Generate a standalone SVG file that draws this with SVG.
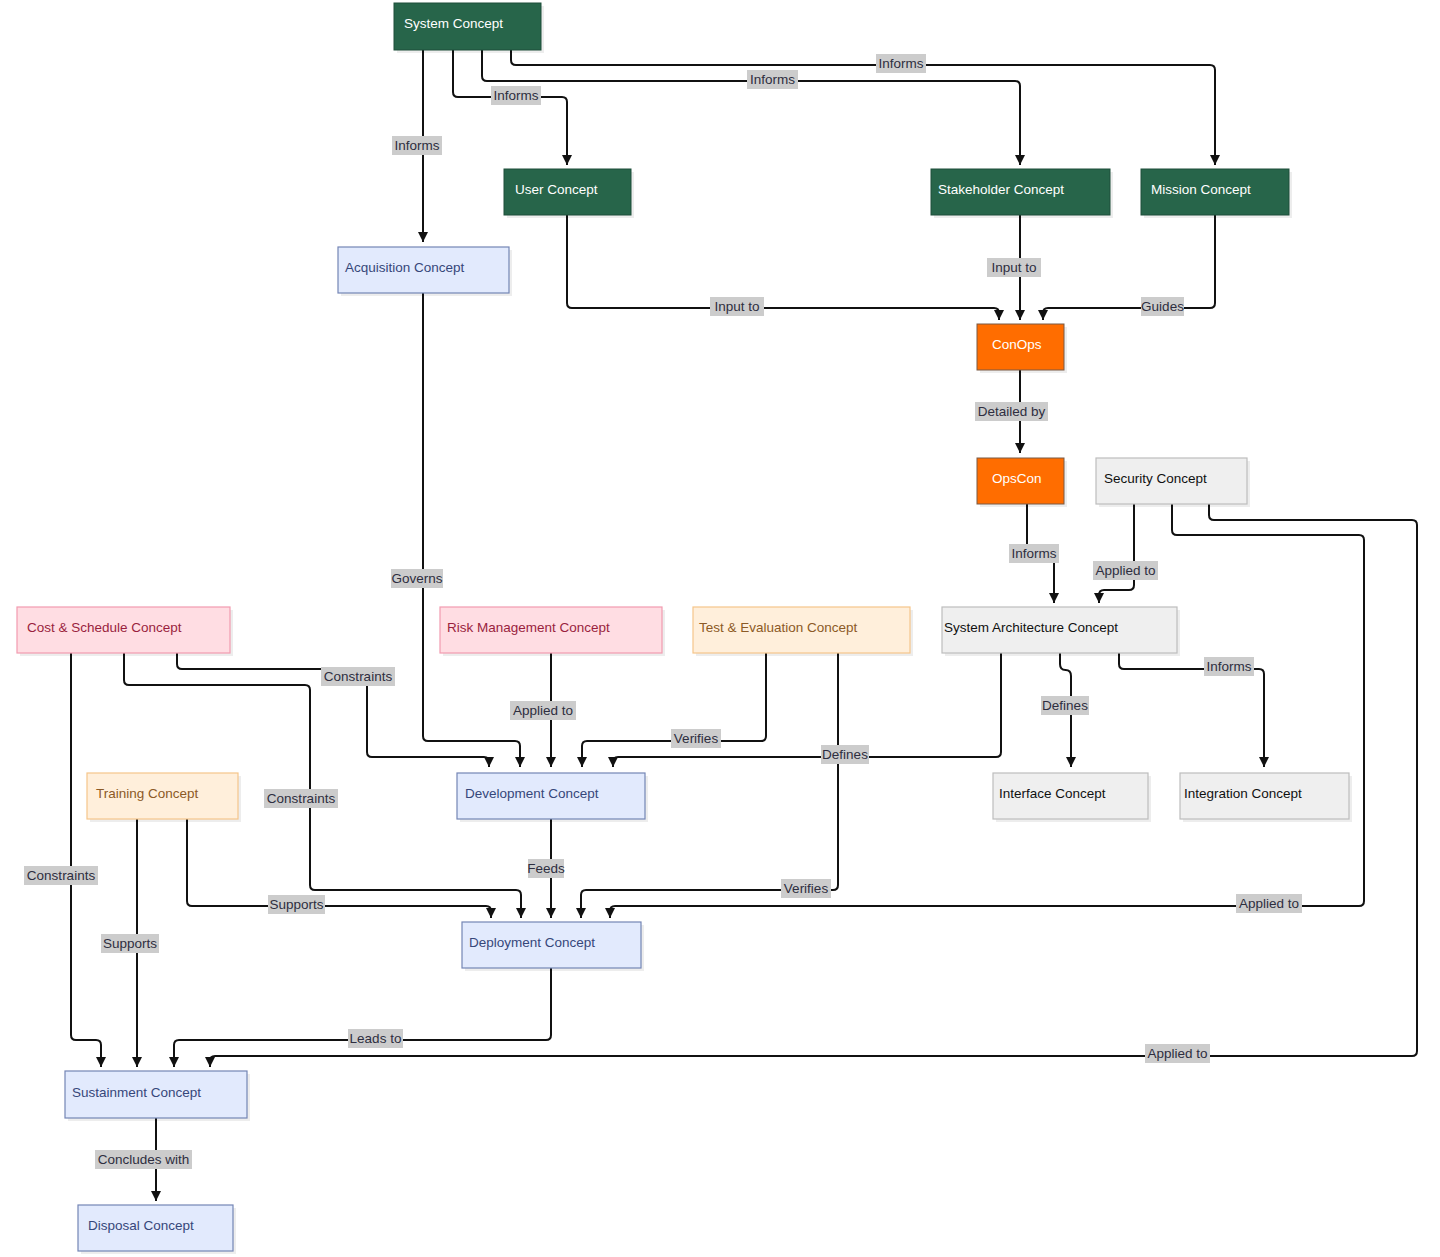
<svg xmlns="http://www.w3.org/2000/svg" width="1440" height="1257" viewBox="0 0 1440 1257">
<defs>
<marker id="ah" viewBox="0 0 10 10" refX="10" refY="5" markerWidth="10" markerHeight="10" markerUnits="userSpaceOnUse" orient="auto">
<path d="M0,0 L10,5 L0,10 z" fill="#111"/>
</marker>
<style>
text{font-family:"Liberation Sans",Arial,sans-serif;font-size:13.5px}
.sh{fill:#000;opacity:.07}
.green rect.b{fill:#27654a;stroke:#1f4f3a;stroke-width:1}
.green text{fill:#fff}
.orange rect.b{fill:#ff6d00;stroke:#7a5a44;stroke-width:1}
.orange text{fill:#fff}
.blue rect.b{fill:#e2eafd;stroke:#7485b5;stroke-width:1.2}
.blue text{fill:#36477a}
.pink rect.b{fill:#ffdde3;stroke:#f29bb0;stroke-width:1.2}
.pink text{fill:#9a1f3e}
.lor rect.b{fill:#ffefdb;stroke:#f6c58a;stroke-width:1.2}
.lor text{fill:#8c5a26}
.gray rect.b{fill:#efefef;stroke:#bdbdbd;stroke-width:1.2}
.gray text{fill:#111}
#edges path{fill:none;stroke:#111;stroke-width:2;marker-end:url(#ah)}
#labels rect{fill:#cccccc}
#labels text{fill:#2e2e40;text-anchor:middle}
</style>
</defs>
<rect width="1440" height="1257" fill="#fff"/>

<g id="edges">
<path d="M423,50 L423,242"/>
<path d="M453,50 L453,92 Q453,97 458,97 L562,97 Q567,97 567,102 L567,165"/>
<path d="M482,50 L482,76 Q482,81 487,81 L1015,81 Q1020,81 1020,86 L1020,165"/>
<path d="M511,50 L511,60 Q511,65 516,65 L1210,65 Q1215,65 1215,70 L1215,165"/>
<path d="M567,215 L567,303 Q567,308 572,308 L994,308 Q999,308 999,313 L999,320"/>
<path d="M1020,215 L1020,320"/>
<path d="M1215,215 L1215,303 Q1215,308 1210,308 L1048,308 Q1043,308 1043,313 L1043,320"/>
<path d="M1020,370 L1020,453"/>
<path d="M1027,504 L1027,553 L1054,553 L1054,603"/>
<path d="M1134,504 L1134,585 Q1134,590 1129,590 L1104,590 Q1099,590 1099,595 L1099,603"/>
<path d="M423,293 L423,736 Q423,741 428,741 L515,741 Q520,741 520,746 L520,767"/>
<path d="M177,653 L177,664 Q177,669 182,669 L362,669 Q367,669 367,674 L367,752 Q367,757 372,757 L484,757 Q489,757 489,762 L489,767"/>
<path d="M551,653 L551,767"/>
<path d="M766,653 L766,736 Q766,741 761,741 L587,741 Q582,741 582,746 L582,767"/>
<path d="M1001,653 L1001,752 Q1001,757 996,757 L618,757 Q613,757 613,762 L613,767"/>
<path d="M1060,653 L1060,664 Q1060,670 1065.5,670 Q1071,670 1071,676 L1071,767"/>
<path d="M1119,653 L1119,664 Q1119,669 1124,669 L1259,669 Q1264,669 1264,674 L1264,767"/>
<path d="M124,653 L124,680 Q124,685 129,685 L305,685 Q310,685 310,690 L310,885 Q310,890 315,890 L516,890 Q521,890 521,895 L521,918"/>
<path d="M71,653 L71,1035 Q71,1040 76,1040 L96,1040 Q101,1040 101,1045 L101,1067"/>
<path d="M551,819 L551,918"/>
<path d="M838,653 L838,885 Q838,890 833,890 L586,890 Q581,890 581,895 L581,918"/>
<path d="M187,819 L187,901 Q187,906 192,906 L486,906 Q491,906 491,911 L491,918"/>
<path d="M137,819 L137,1067"/>
<path d="M1172,504 L1172,530 Q1172,535 1177,535 L1359,535 Q1364,535 1364,540 L1364,901 Q1364,906 1359,906 L615,906 Q610,906 610,911 L610,918"/>
<path d="M551,968 L551,1035 Q551,1040 546,1040 L179,1040 Q174,1040 174,1045 L174,1067"/>
<path d="M1209,504 L1209,515 Q1209,520 1214,520 L1412,520 Q1417,520 1417,525 L1417,1051 Q1417,1056 1412,1056 L215,1056 Q210,1056 210,1061 L210,1067"/>
<path d="M156,1118 L156,1201"/>
</g>

<g id="labels">
<g><rect x="392" y="136" width="50" height="19"/><text x="417" y="150">Informs</text></g>
<g><rect x="491" y="86" width="50" height="19"/><text x="516" y="100">Informs</text></g>
<g><rect x="747" y="70" width="51" height="19"/><text x="772.5" y="84">Informs</text></g>
<g><rect x="876" y="54" width="50" height="19"/><text x="901" y="68">Informs</text></g>
<g><rect x="710" y="297" width="54" height="19"/><text x="737" y="311">Input to</text></g>
<g><rect x="987" y="258" width="54" height="19"/><text x="1014" y="272">Input to</text></g>
<g><rect x="1141" y="297" width="43" height="19"/><text x="1162.5" y="311">Guides</text></g>
<g><rect x="975" y="402" width="73" height="19"/><text x="1011.5" y="416">Detailed by</text></g>
<g><rect x="1009" y="544" width="50" height="19"/><text x="1034" y="558">Informs</text></g>
<g><rect x="1093" y="561" width="65" height="19"/><text x="1125.5" y="575">Applied to</text></g>
<g><rect x="391" y="569" width="52" height="19"/><text x="417" y="583">Governs</text></g>
<g><rect x="321" y="667" width="74" height="19"/><text x="358" y="681">Constraints</text></g>
<g><rect x="510" y="701" width="66" height="19"/><text x="543" y="715">Applied to</text></g>
<g><rect x="671" y="729" width="50" height="19"/><text x="696" y="743">Verifies</text></g>
<g><rect x="821" y="745" width="48" height="19"/><text x="845" y="759">Defines</text></g>
<g><rect x="1041" y="696" width="48" height="19"/><text x="1065" y="710">Defines</text></g>
<g><rect x="1204" y="657" width="50" height="19"/><text x="1229" y="671">Informs</text></g>
<g><rect x="264" y="789" width="74" height="19"/><text x="301" y="803">Constraints</text></g>
<g><rect x="24" y="866" width="74" height="19"/><text x="61" y="880">Constraints</text></g>
<g><rect x="528" y="859" width="36" height="19"/><text x="546" y="873">Feeds</text></g>
<g><rect x="781" y="879" width="50" height="19"/><text x="806" y="893">Verifies</text></g>
<g><rect x="268" y="895" width="57" height="19"/><text x="296.5" y="909">Supports</text></g>
<g><rect x="101" y="934" width="58" height="19"/><text x="130" y="948">Supports</text></g>
<g><rect x="1236" y="894" width="66" height="19"/><text x="1269" y="908">Applied to</text></g>
<g><rect x="348" y="1029" width="55" height="19"/><text x="375.5" y="1043">Leads to</text></g>
<g><rect x="1145" y="1044" width="65" height="19"/><text x="1177.5" y="1058">Applied to</text></g>
<g><rect x="95" y="1150" width="97" height="19"/><text x="143.5" y="1164">Concludes with</text></g>
</g>

<g id="nodes">
<g id="system" class="green"><rect class="sh" x="397" y="6" width="147" height="47"/><rect class="b" x="394" y="3" width="147" height="47"/><text x="404" y="28">System Concept</text></g>
<g id="user" class="green"><rect class="sh" x="507" y="172" width="127" height="46"/><rect class="b" x="504" y="169" width="127" height="46"/><text x="515" y="194">User Concept</text></g>
<g id="stakeholder" class="green"><rect class="sh" x="934" y="172" width="179" height="46"/><rect class="b" x="931" y="169" width="179" height="46"/><text x="938" y="194">Stakeholder Concept</text></g>
<g id="mission" class="green"><rect class="sh" x="1144" y="172" width="148" height="46"/><rect class="b" x="1141" y="169" width="148" height="46"/><text x="1151" y="194">Mission Concept</text></g>
<g id="acquisition" class="blue"><rect class="sh" x="341" y="250" width="171" height="46"/><rect class="b" x="338" y="247" width="171" height="46"/><text x="345" y="272">Acquisition Concept</text></g>
<g id="conops" class="orange"><rect class="sh" x="980" y="327" width="87" height="46"/><rect class="b" x="977" y="324" width="87" height="46"/><text x="992" y="349">ConOps</text></g>
<g id="opscon" class="orange"><rect class="sh" x="980" y="461" width="87" height="46"/><rect class="b" x="977" y="458" width="87" height="46"/><text x="992" y="483">OpsCon</text></g>
<g id="security" class="gray"><rect class="sh" x="1099" y="461" width="151" height="46"/><rect class="b" x="1096" y="458" width="151" height="46"/><text x="1104" y="483">Security Concept</text></g>
<g id="cost" class="pink"><rect class="sh" x="20" y="610" width="213" height="46"/><rect class="b" x="17" y="607" width="213" height="46"/><text x="27" y="632">Cost &amp; Schedule Concept</text></g>
<g id="risk" class="pink"><rect class="sh" x="443" y="610" width="222" height="46"/><rect class="b" x="440" y="607" width="222" height="46"/><text x="447" y="632">Risk Management Concept</text></g>
<g id="testeval" class="lor"><rect class="sh" x="696" y="610" width="217" height="46"/><rect class="b" x="693" y="607" width="217" height="46"/><text x="699" y="632">Test &amp; Evaluation Concept</text></g>
<g id="sysarch" class="gray"><rect class="sh" x="945" y="610" width="235" height="46"/><rect class="b" x="942" y="607" width="235" height="46"/><text x="944" y="632">System Architecture Concept</text></g>
<g id="training" class="lor"><rect class="sh" x="90" y="776" width="151" height="46"/><rect class="b" x="87" y="773" width="151" height="46"/><text x="96" y="798">Training Concept</text></g>
<g id="development" class="blue"><rect class="sh" x="460" y="776" width="188" height="46"/><rect class="b" x="457" y="773" width="188" height="46"/><text x="465" y="798">Development Concept</text></g>
<g id="interface" class="gray"><rect class="sh" x="996" y="776" width="155" height="46"/><rect class="b" x="993" y="773" width="155" height="46"/><text x="999" y="798">Interface Concept</text></g>
<g id="integration" class="gray"><rect class="sh" x="1183" y="776" width="169" height="46"/><rect class="b" x="1180" y="773" width="169" height="46"/><text x="1184" y="798">Integration Concept</text></g>
<g id="deployment" class="blue"><rect class="sh" x="465" y="925" width="179" height="46"/><rect class="b" x="462" y="922" width="179" height="46"/><text x="469" y="947">Deployment Concept</text></g>
<g id="sustainment" class="blue"><rect class="sh" x="68" y="1074" width="182" height="47"/><rect class="b" x="65" y="1071" width="182" height="47"/><text x="72" y="1097">Sustainment Concept</text></g>
<g id="disposal" class="blue"><rect class="sh" x="81" y="1208" width="155" height="46"/><rect class="b" x="78" y="1205" width="155" height="46"/><text x="88" y="1230">Disposal Concept</text></g>
</g>
</svg>
